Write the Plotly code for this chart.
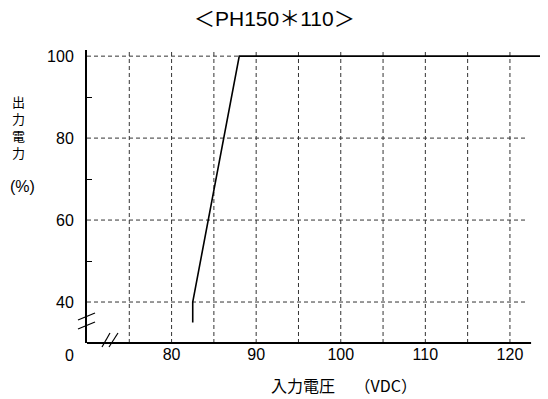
import plotly.graph_objects as go

# data
title_text = "＜PH150＊110＞"
vin = [82.5, 82.5, 88, 125]
pout = [35, 40, 100, 100]
x_ticks = [80, 90, 100, 110, 120]
y_ticks = [40, 60, 80, 100]
x_grid = [75, 80, 85, 90, 95, 100, 105, 110, 115, 120]
y_grid = [40, 60, 80]

FONT = "Liberation Sans, Arial, Noto Sans CJK JP, sans-serif"
JP = "Noto Sans CJK JP, sans-serif"

fig = go.Figure()
fig.add_trace(go.Scatter(x=vin, y=pout, mode="lines",
                         line=dict(color="black", width=1.6), showlegend=False))

shapes = []
dash = dict(color="#333", width=1, dash="4px,3px")
for gx in x_grid:
    shapes.append(dict(type="line", xref="x", yref="y", x0=gx, x1=gx, y0=30, y1=101.5,
                       line=dash, layer="below"))
for gy in y_grid:
    shapes.append(dict(type="line", xref="x", yref="y", x0=70, x1=122, y0=gy, y1=gy,
                       line=dash, layer="below"))
shapes.append(dict(type="line", xref="x", yref="y", x0=70, x1=88, y0=100, y1=100,
                   line=dash, layer="below"))
# x axis line (stops short of the right edge)
shapes.append(dict(type="line", xref="x", yref="paper", x0=70, x1=122.5, y0=0, y1=0,
                   line=dict(color="black", width=2)))

# plot area in page pixels: x 87..548, y 50..343
def px2paper(px, py):
    return (px - 87) / 461, (343 - py) / 293

# axis break marks
for (a, b) in [((78, 320), (95, 313)), ((78, 329), (95, 322)),
               ((102, 347), (110, 333)), ((109, 347), (118, 333))]:
    x0, y0 = px2paper(*a)
    x1, y1 = px2paper(*b)
    shapes.append(dict(type="line", xref="paper", yref="paper", x0=x0, y0=y0, x1=x1, y1=y1,
                       line=dict(color="black", width=1.2)))

ann = [
    dict(text=title_text, x=px2paper(274, 0)[0], y=px2paper(0, 19)[1],
         font=dict(family=FONT, size=21)),
    dict(text="出<br>力<br>電<br>力", x=px2paper(18, 0)[0], y=px2paper(0, 127)[1],
         font=dict(family=JP, size=13)),
    dict(text="(%)", x=px2paper(22, 0)[0], y=px2paper(0, 186)[1],
         font=dict(family=FONT, size=16)),
    dict(text="入力電圧　 （VDC）", x=px2paper(343.5, 0)[0], y=px2paper(0, 385)[1],
         font=dict(family=JP, size=16)),
    dict(text="0", x=px2paper(69, 0)[0], y=px2paper(0, 355)[1],
         font=dict(family=FONT, size=16)),
]
for a in ann:
    a.update(xref="paper", yref="paper", showarrow=False,
             xanchor="center", yanchor="middle")

# page has an 8px body margin, so the figure sits at (8, 8)
fig.update_layout(
    width=548, height=399,
    margin=dict(l=79, r=8, t=42, b=64),
    plot_bgcolor="white", paper_bgcolor="white",
    font=dict(family=FONT, size=16, color="black"),
    shapes=shapes,
    annotations=ann,
    xaxis=dict(range=[70, 124.5], tickvals=x_ticks, showgrid=False, zeroline=False,
               showline=False, ticks="", ticklabelstandoff=0, automargin=False),
    yaxis=dict(range=[30, 101.5], tickvals=y_ticks, showgrid=False, zeroline=False,
               showline=True, linecolor="black", linewidth=2, ticks="",
               ticklabelstandoff=8, automargin=False,
               minor=dict(tickvals=[50, 70, 90], ticks="inside", ticklen=5,
                          tickcolor="black", showgrid=False)),
)

fig.write_html("out.html")
